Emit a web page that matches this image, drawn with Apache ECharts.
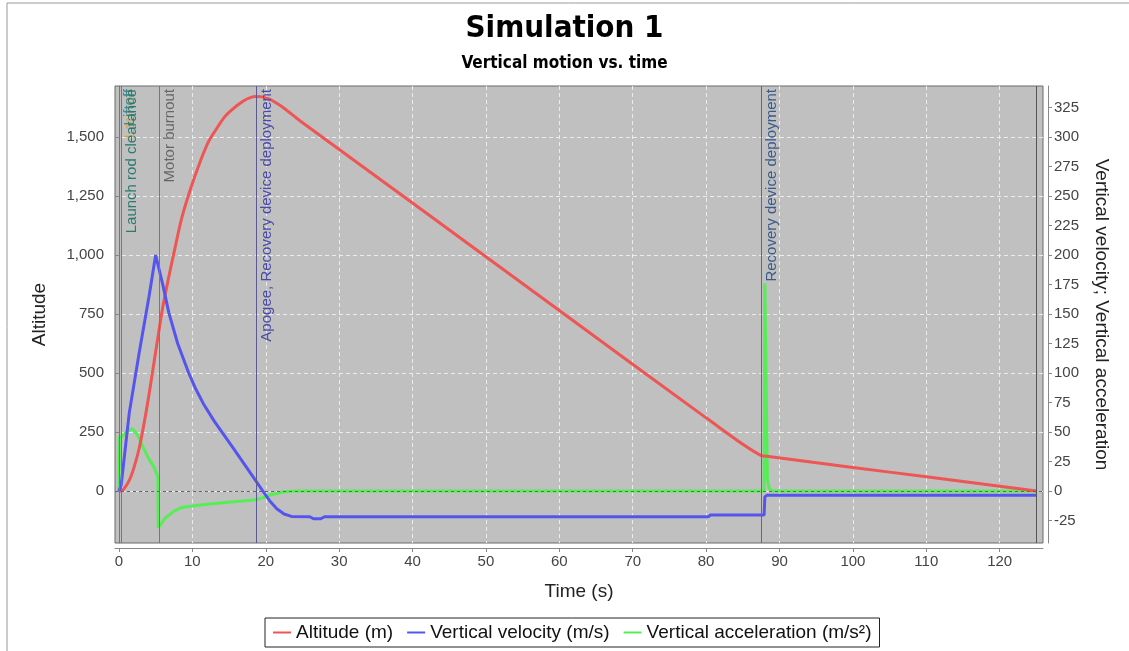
<!DOCTYPE html>
<html>
<head>
<meta charset="utf-8">
<title>Simulation 1</title>
<script src="https://cdn.jsdelivr.net/npm/echarts@6/dist/echarts.min.js"></script>
<style>
html, body { margin: 0; padding: 0; background: #fff; }
#chart { width: 1129px; height: 651px; }
</style>
</head>
<body>
<div id="chart"></div>
<script>
// [time (s), altitude (m)]
var altitude = [
    [0, 0], [0.5, 3], [1.4, 45], [2.0, 95], [2.75, 180], [3.5, 300], [4.1, 410],
    [5.0, 590], [5.9, 767], [6.7, 894], [7.5, 1010], [8.5, 1150], [9.7, 1275],
    [11, 1390], [12.2, 1480], [13.3, 1535], [14.4, 1585], [15.5, 1618],
    [16.5, 1643], [17.5, 1662], [18.5, 1672], [19.5, 1670], [20.5, 1660],
    [21.5, 1643], [22.5, 1622], [24.7, 1568], [40, 1220], [60, 765], [80, 310],
    [87.5, 150], [88, 148], [100, 100], [110, 60], [120, 20], [125, 0]
];
// [time (s), vertical velocity (m/s)]
var velocity = [
    [0, 0], [0.3, 5], [1.4, 66], [2.75, 117], [4.1, 165], [5.0, 200], [5.5, 187],
    [6.0, 174], [6.8, 151], [8.0, 125], [9.5, 100], [10.5, 86], [11.5, 74],
    [13, 59], [15.5, 37], [17.5, 19], [19.6, 0], [20.5, -8], [21.5, -15],
    [22.5, -19.5], [23.5, -21.5], [26, -21.8], [26.5, -23.5], [27.5, -23.5],
    [28, -21.8], [80.3, -21.8], [80.6, -20.3], [87.9, -20.3], [88.0, -5],
    [88.3, -3.5], [125, -3.5]
];
// [time (s), vertical acceleration (m/s²)]
var acceleration = [
    [0, 0], [0.05, 45], [0.6, 47], [1.0, 50], [1.8, 53], [2.5, 48], [3.2, 38],
    [4.1, 27], [4.8, 20], [5.3, 12], [5.35, -31], [5.5, -30], [6.3, -23],
    [7.5, -17], [8.5, -14], [10.8, -12], [13.1, -10.5], [15.3, -9.3],
    [18.4, -7.6], [19.5, -6], [20.6, -3.4], [22.5, -0.6], [24, 0], [87.9, 0],
    [88.0, 176], [88.25, 176], [88.35, 10], [88.6, 2], [89, 0], [125, 0]
];

var timeTicks = [0, 10, 20, 30, 40, 50, 60, 70, 80, 90, 100, 110, 120];
var altitudeTicks = [0, 250, 500, 750, 1000, 1250, 1500];
var rightTicks = [-25, 0, 25, 50, 75, 100, 125, 150, 175, 200, 225, 250, 275, 300, 325];

var eventTimes = [0, 0.08, 0.35, 5.5, 18.66, 87.5, 125.0];
var eventNames = ['Launch', 'Liftoff', 'Launch rod clearance', 'Motor burnout',
    'Apogee, Recovery device deployment', 'Recovery device deployment', ''];
var eventTextColors = ['#e0a030', '#3a8a9a', '#2a7a70', '#666666', '#4a4aa8', '#3a5a8a', '#555'];
var eventLineColors = ['#777777', '#777777', '#777777', '#777777', '#5a5a90', '#5a6a90', '#555555'];

var FONT = '"Liberation Sans", Arial, sans-serif';
var TITLE_FONT = '"Liberation Sans Narrow", "DejaVu Sans Condensed", sans-serif';

function thousands(v) {
    return Number(v).toLocaleString('en-US');
}

var eventLines = eventTimes.map(function (t, i) {
    return {
        xAxis: t,
        name: eventNames[i],
        lineStyle: { color: eventLineColors[i], type: 'solid', width: 1 },
        label: {
            show: eventNames[i] !== '',
            formatter: eventNames[i],
            position: 'insideEndBottom',
            color: eventTextColors[i],
            fontSize: 15,
            fontFamily: FONT,
            distance: 3
        }
    };
});
eventLines.push({
    yAxis: 0,
    lineStyle: { color: '#666', type: [3, 3], width: 1 },
    label: { show: false }
});

var chart = echarts.init(document.getElementById('chart'));

var option = {
    backgroundColor: '#fff',
    animation: false,
    textStyle: { fontFamily: FONT },
    title: [{
        text: 'Simulation 1',
        left: 'center',
        top: 8,
        textStyle: { fontSize: 31, fontWeight: 'bold', color: '#000', fontFamily: TITLE_FONT }
    }, {
        text: 'Vertical motion vs. time',
        left: 'center',
        top: 50,
        textStyle: { fontSize: 17, fontWeight: 'bold', color: '#000', fontFamily: TITLE_FONT }
    }],
    graphic: [{
        type: 'rect',
        shape: { x: 7, y: 3, width: 1200, height: 800 },
        style: { fill: 'none', stroke: '#999', lineWidth: 1 },
        silent: true
    }],
    legend: {
        left: 265,
        top: 618,
        orient: 'horizontal',
        borderColor: '#222',
        borderWidth: 1,
        padding: [5, 8],
        itemGap: 14,
        itemWidth: 18,
        itemHeight: 2,
        icon: 'rect',
        textStyle: { fontSize: 19, color: '#111', fontFamily: FONT },
        data: ['Altitude (m)', 'Vertical velocity (m/s)', 'Vertical acceleration (m/s²)']
    },
    grid: {
        left: 115, right: 86, top: 86, bottom: 108,
        show: true,
        backgroundColor: '#c0c0c0',
        borderColor: '#6a6a6a',
        borderWidth: 1
    },
    xAxis: {
        type: 'value',
        min: -0.54,
        max: 125.9,
        offset: 5,
        name: 'Time (s)',
        nameLocation: 'middle',
        nameGap: 34,
        nameTextStyle: { fontSize: 19, color: '#222' },
        axisLine: { show: true, onZero: false, lineStyle: { color: '#888' } },
        axisTick: { show: true, length: 4, customValues: timeTicks, lineStyle: { color: '#888' } },
        axisLabel: { customValues: timeTicks, fontSize: 15, color: '#444', margin: 6 },
        splitLine: { show: true, lineStyle: { color: '#ececec', type: [4, 3] } }
    },
    yAxis: [{
        type: 'value',
        position: 'left',
        min: -220.3,
        max: 1716,
        offset: 5,
        name: 'Altitude',
        nameLocation: 'middle',
        nameGap: 61,
        nameTextStyle: { fontSize: 19, color: '#222' },
        axisLine: { show: true, lineStyle: { color: '#888' } },
        axisTick: { show: true, length: 4, customValues: altitudeTicks, lineStyle: { color: '#888' } },
        axisLabel: { customValues: altitudeTicks, fontSize: 15, color: '#444', margin: 6, formatter: thousands },
        splitLine: { show: true, lineStyle: { color: '#ececec', type: [4, 3] } }
    }, {
        type: 'value',
        position: 'right',
        min: -44.06,
        max: 343.2,
        offset: 5,
        name: 'Vertical velocity; Vertical acceleration',
        nameLocation: 'middle',
        nameRotate: -90,
        nameGap: 44,
        nameTextStyle: { fontSize: 19, color: '#222' },
        axisLine: { show: true, lineStyle: { color: '#888' } },
        axisTick: { show: true, length: 4, customValues: rightTicks, lineStyle: { color: '#888' } },
        axisLabel: { customValues: rightTicks, fontSize: 15, color: '#444', margin: 6 },
        splitLine: { show: false }
    }],
    series: [{
        name: 'Altitude (m)',
        type: 'line',
        yAxisIndex: 0,
        data: altitude,
        showSymbol: false,
        smooth: 0.3,
        color: '#ee5555',
        lineStyle: { width: 3, color: '#ee5555' },
        z: 3,
        markLine: {
            silent: true,
            symbol: 'none',
            animation: false,
            data: eventLines
        }
    }, {
        name: 'Vertical velocity (m/s)',
        type: 'line',
        yAxisIndex: 1,
        data: velocity,
        showSymbol: false,
        color: '#5555ee',
        lineStyle: { width: 3, color: '#5555ee' },
        z: 3
    }, {
        name: 'Vertical acceleration (m/s²)',
        type: 'line',
        yAxisIndex: 1,
        data: acceleration,
        showSymbol: false,
        color: '#55ee55',
        lineStyle: { width: 3, color: '#55ee55' },
        z: 2
    }]
};

chart.setOption(option);
</script>
</body>
</html>
